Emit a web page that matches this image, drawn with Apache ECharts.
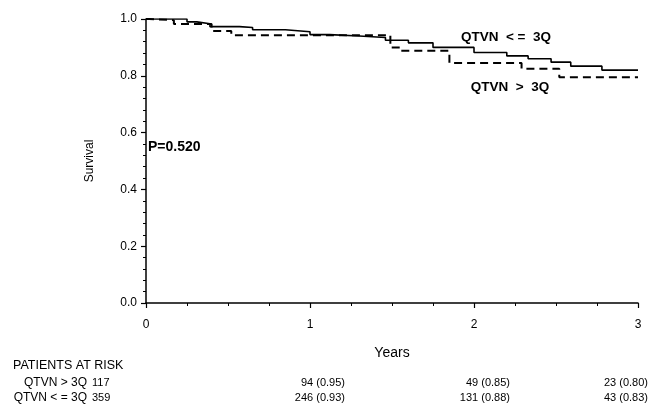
<!DOCTYPE html>
<html>
<head>
<meta charset="utf-8">
<script src="https://cdn.jsdelivr.net/npm/echarts@6/dist/echarts.min.js"></script>
<style>html,body{margin:0;padding:0;background:#fff}#c{width:658px;height:412px}</style>
</head>
<body>
<div id="c"></div>
<script>
// Kaplan-Meier step points [years, survival]
var timesLow = [0, 0.22, 0.25, 0.31, 0.39, 0.57, 0.65, 0.85, 1.0, 1.12, 1.3, 1.46, 1.6, 1.75, 2.0, 2.2, 2.33, 2.47, 2.59, 2.78, 3.0];
var survLow  = [1.0, 1.0, 0.99, 0.983, 0.973, 0.97, 0.962, 0.955, 0.945, 0.94, 0.935, 0.925, 0.916, 0.9, 0.882, 0.87, 0.86, 0.848, 0.834, 0.82, 0.82];
var timesHigh = [0, 0.02, 0.17, 0.40, 0.52, 1.49, 1.55, 1.85, 2.29, 2.52, 3.0];
var survHigh  = [1.0, 0.996, 0.982, 0.958, 0.943, 0.9, 0.888, 0.845, 0.825, 0.795, 0.795];
var xTicks = [0, 1, 2, 3];
var yTicks = [0.0, 0.2, 0.4, 0.6, 0.8, 1.0];
var labelLow = 'QTVN  < =  3Q';
var labelHigh = 'QTVN  >  3Q';
var pText = 'P=0.520';
var riskTitle = 'PATIENTS AT RISK';
var riskGroups = ['QTVN > 3Q', 'QTVN < = 3Q'];
var riskStart = ['117', '359'];
var riskHigh = ['94 (0.95)', '49 (0.85)', '23 (0.80)'];
var riskLow = ['246 (0.93)', '131 (0.88)', '43 (0.83)'];

function pairs(t, s) { return t.map(function (v, i) { return [v, s[i]]; }); }

var FONT = 'Liberation Sans, Arial, sans-serif';
var chart = echarts.init(document.getElementById('c'));

var riskCols = [345, 510, 648];
var RF = '11px ' + FONT;
function txt(x, y, s, align, font) {
  return { type: 'text', x: x, y: y, style: { text: s, font: font || RF, fill: '#000', align: align || 'left', verticalAlign: 'middle' } };
}
var graphics = [
  txt(13, 366, riskTitle, 'left', '12.5px ' + FONT),
  txt(87, 383, riskGroups[0], 'right', '12px ' + FONT),
  txt(87, 398, riskGroups[1], 'right', '12px ' + FONT),
  txt(92, 383, riskStart[0]),
  txt(92, 398, riskStart[1])
];
riskHigh.forEach(function (s, i) { graphics.push(txt(riskCols[i], 383, s, 'right')); });
riskLow.forEach(function (s, i) { graphics.push(txt(riskCols[i], 398, s, 'right')); });
graphics.push(txt(506, 37, labelLow, 'center', 'bold 13.5px ' + FONT));
graphics.push(txt(510, 87, labelHigh, 'center', 'bold 13.5px ' + FONT));
graphics.push(txt(148, 147, pText, 'left', 'bold 14px ' + FONT));

chart.setOption({
  animation: false,
  backgroundColor: '#fff',
  grid: { left: 146, right: 20, top: 19, bottom: 109, containLabel: false },
  xAxis: {
    type: 'value', min: 0, max: 3, interval: 1,
    name: 'Years', nameLocation: 'middle', nameGap: 43,
    nameTextStyle: { fontFamily: FONT, fontSize: 14, color: '#000' },
    axisLine: { lineStyle: { color: '#000', width: 1.5 } },
    axisTick: { length: 5, lineStyle: { color: '#000', width: 1.2 } },
    minorTick: { show: true, splitNumber: 4, length: 3, lineStyle: { color: '#000', width: 1 } },
    axisLabel: { margin: 16, fontFamily: FONT, fontSize: 12, color: '#000' },
    splitLine: { show: false }
  },
  yAxis: {
    type: 'value', min: 0, max: 1, interval: 0.2,
    name: 'Survival', nameLocation: 'middle', nameGap: 50, nameRotate: 90,
    nameTextStyle: { fontFamily: FONT, fontSize: 12, color: '#000' },
    axisLine: { show: true, lineStyle: { color: '#000', width: 1.5 } },
    axisTick: { show: true, length: 5, lineStyle: { color: '#000', width: 1.2 } },
    minorTick: { show: true, splitNumber: 5, length: 3, lineStyle: { color: '#000', width: 1 } },
    axisLabel: { margin: 9, fontFamily: FONT, fontSize: 12, color: '#000',
      formatter: function (v) { return v.toFixed(1); } },
    splitLine: { show: false }
  },
  graphic: graphics,
  series: [
    { name: labelLow, type: 'line', step: 'end', symbol: 'none', data: pairs(timesLow, survLow),
      lineStyle: { color: '#000', width: 1.6, type: 'solid' } },
    { name: labelHigh, type: 'line', step: 'end', symbol: 'none', data: pairs(timesHigh, survHigh),
      lineStyle: { color: '#000', width: 2, type: [8, 5] } }
  ]
});
</script>
</body>
</html>
